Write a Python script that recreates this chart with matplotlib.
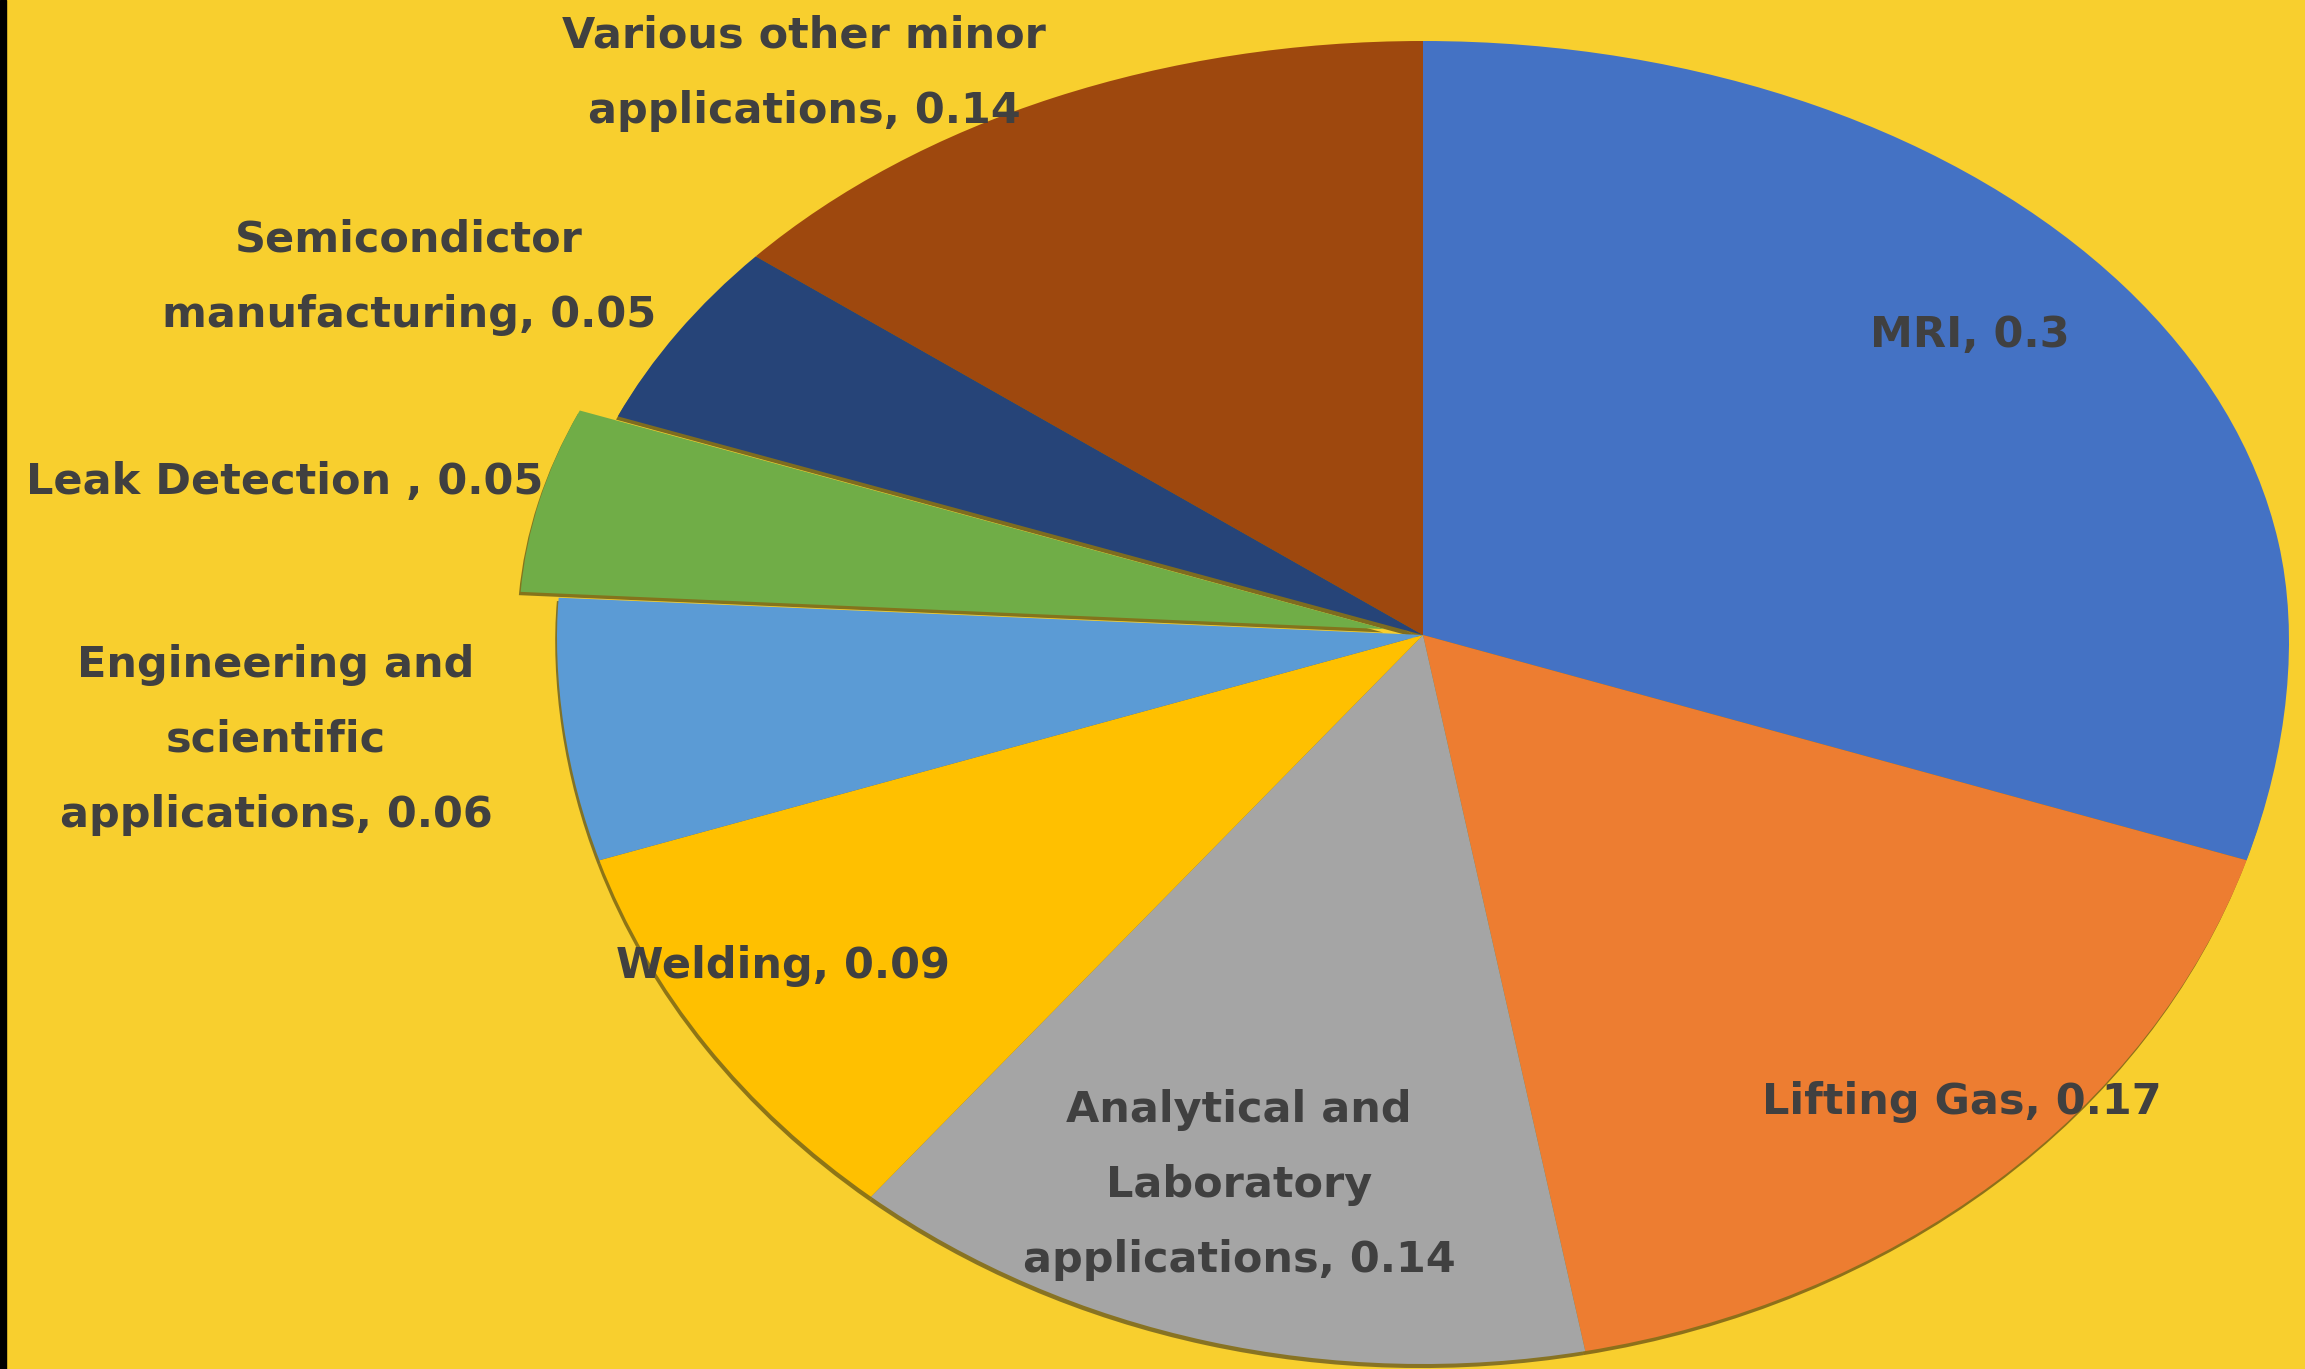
import numpy as np
import matplotlib
matplotlib.use("Agg")
import matplotlib.pyplot as plt

# ---- data ----
categories = ["MRI", "Lifting Gas", "Analytical and\nLaboratory\napplications",
              "Welding", "Engineering and\nscientific\napplications",
              "Leak Detection ", "Semicondictor\nmanufacturing",
              "Various other minor\napplications"]
values = [0.3, 0.17, 0.14, 0.09, 0.06, 0.05, 0.05, 0.14]
colors = ["#4472C4", "#ED7D31", "#A5A5A5", "#FFC000", "#5B9BD5",
          "#70AD47", "#264478", "#9E480E"]
explode = [0, 0, 0, 0, 0, 0.045, 0, 0]

# label anchor positions (figure pixel coords from top-left, full size)
label_pos = [(1970, 335), (1962, 1102), (1239, 1185), (783, 966),
             (276, 740), (285, 482), (409, 277), (804, 73)]

W, H = 2305, 1369
BG = "#F8CF2E"
fig = plt.figure(figsize=(W / 100, H / 100), dpi=100)
fig.patch.set_facecolor(BG)
ax = fig.add_axes([0, 0, 1, 1])
ax.set_facecolor(BG)

# pie geometry in pixels
cx, cy = 1423, 635
rx, kt, kb = 866, 594, 729


def fwd(y):
    y = np.asarray(y, dtype=float)
    return np.where(y >= 0, y * kt, y * kb)


def inv(y):
    y = np.asarray(y, dtype=float)
    return np.where(y >= 0, y / kt, y / kb)


wedges, _ = ax.pie(values, colors=colors, startangle=90, counterclock=False,
                   explode=explode, radius=1.0,
                   wedgeprops=dict(linewidth=0),
                   shadow=dict(ox=-0.0015, oy=-0.004, shade=0.85))
ax.set_aspect("auto")
ax.set_yscale("function", functions=(fwd, inv))
ax.set_xlim(-cx / rx, (W - cx) / rx)
ax.set_ylim(-(H - cy) / kb, cy / kt)
ax.axis("off")

for cat, v, (px, py) in zip(categories, values, label_pos):
    fig.text(px / W, 1 - py / H, f"{cat}, {v:g}", ha="center", va="center",
             fontsize=31, family="DejaVu Sans", weight="bold", color="#404040",
             linespacing=2.0)

# dark strip at left edge
fig.add_artist(plt.Rectangle((0, 0), 6 / W, 1, transform=fig.transFigure,
                             color="black", zorder=10))

fig.savefig("out.png", dpi=100, facecolor=BG)
